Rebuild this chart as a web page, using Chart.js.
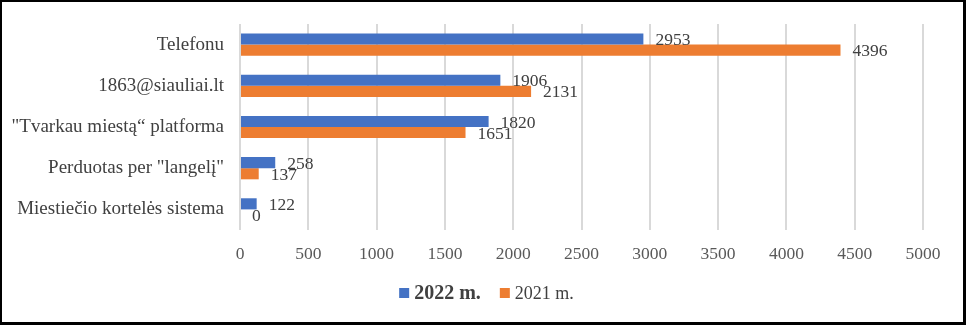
<!DOCTYPE html>
<html>
<head>
<meta charset="utf-8">
<script src="https://cdn.jsdelivr.net/npm/chart.js@4"></script>
<style>
  html, body { margin: 0; padding: 0; background: #fff; }
  #box {
    width: 966px; height: 325px; box-sizing: border-box;
    border-style: solid; border-color: #000; border-width: 2px 3px 3px 2px;
    position: relative;
  }
  #box canvas { display: block; }
</style>
</head>
<body>
<div id="box"><canvas id="chart" width="961" height="320"></canvas></div>
<script>
// Data
const categories = [
    'Telefonu',
    '1863@siauliai.lt',
    '"Tvarkau miestą“ platforma',
    'Perduotas per "langelį"',
    'Miestiečio kortelės sistema'
];
const values2022 = [2953, 1906, 1820, 258, 122];
const values2021 = [4396, 2131, 1651, 137, 0];
const seriesNames = ['2022 m.', '2021 m.'];
const xTicks = [0, 500, 1000, 1500, 2000, 2500, 3000, 3500, 4000, 4500, 5000];

const serif = "'Liberation Serif', 'Times New Roman', serif";
const blue = '#4472C4';
const orange = '#ED7D31';

// Value labels at the end of each bar
const barLabels = {
    id: 'barLabels',
    afterDatasetsDraw(chart) {
        const ctx = chart.ctx;
        ctx.save();
        ctx.font = '17.5px ' + serif;
        ctx.fillStyle = '#404040';
        ctx.textAlign = 'left';
        ctx.textBaseline = 'middle';
        chart.data.datasets.forEach((ds, i) => {
            chart.getDatasetMeta(i).data.forEach((bar, j) => {
                ctx.fillText(String(ds.data[j]), bar.x + 12, bar.y + 1.5);
            });
        });
        ctx.restore();
    }
};

// Legend with a bold first entry, like the original
const mixedLegend = {
    id: 'mixedLegend',
    afterDraw(chart) {
        const ctx = chart.ctx;
        const fonts = ['bold 20px ' + serif, '18px ' + serif];
        const colors = [blue, orange];
        const y = 291;
        ctx.save();
        const widths = seriesNames.map((n, i) => { ctx.font = fonts[i]; return ctx.measureText(n).width; });
        const total = 10 + 5 + widths[0] + 19 + 10 + 5 + widths[1];
        let x = chart.width / 2 + 4 - total / 2;
        ctx.textBaseline = 'middle';
        seriesNames.forEach((n, i) => {
            ctx.fillStyle = colors[i];
            ctx.fillRect(x, y - 5, 10, 10);
            x += 15;
            ctx.font = fonts[i];
            ctx.fillStyle = '#404040';
            ctx.fillText(n, x, y + 1);
            x += widths[i] + 19;
        });
        ctx.restore();
    }
};

new Chart(document.getElementById('chart'), {
    type: 'bar',
    data: {
        labels: categories,
        datasets: [
            { label: seriesNames[0], data: values2022, backgroundColor: blue },
            { label: seriesNames[1], data: values2021, backgroundColor: orange }
        ]
    },
    options: {
        indexAxis: 'y',
        responsive: false,
        animation: false,
        categoryPercentage: 0.54,
        barPercentage: 1,
        layout: { padding: { top: 22, right: 40, bottom: 52, left: 0 } },
        plugins: {
            legend: { display: false },
            tooltip: { enabled: false }
        },
        scales: {
            x: {
                min: 0, max: 5000,
                afterBuildTicks: s => { s.ticks = xTicks.map(v => ({ value: v })); },
                afterFit: s => { s.height = 40; },
                grid: { color: '#d9d9d9', lineWidth: 2, drawTicks: false },
                border: { display: false },
                ticks: {
                    color: '#595959', padding: 14,
                    font: { family: serif, size: 17.5 },
                    callback: v => String(v)
                }
            },
            y: {
                afterFit: s => { s.width = 238; s.paddingTop = 0; s.paddingBottom = 0; },
                grid: { display: false, drawTicks: false },
                border: { display: false },
                ticks: { color: '#404040', padding: 16, font: { family: serif, size: 19 } }
            }
        }
    },
    plugins: [barLabels, mixedLegend]
});
</script>
</body>
</html>
